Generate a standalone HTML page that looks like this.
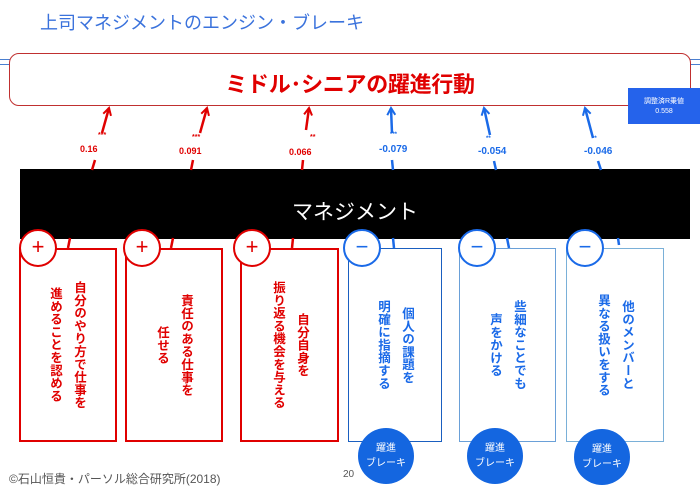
<!DOCTYPE html>
<html><head><meta charset="utf-8"><style>
*{margin:0;padding:0;box-sizing:border-box}
body{width:700px;height:495px;background:#fff;position:relative;overflow:hidden;font-family:"Liberation Sans","Noto Sans CJK JP",sans-serif}
.a{position:absolute}
.box{position:absolute;top:248px;height:194px;border:2px solid #e00000;background:#fff}
.bb{border:1.5px solid #1a5fc0}
.vt{position:absolute;top:248px;height:194px;width:48px;writing-mode:vertical-rl;text-align:center;font-weight:bold;font-size:12.5px;line-height:24px;letter-spacing:0.3px}
.c{position:absolute;width:38px;height:38px;border-radius:50%;background:#fff;border:2.5px solid #e00000;color:#e00000;font-size:22px;text-align:center;line-height:32px}
.cb{border-color:#1a6ae8;color:#1a6ae8}
.br{position:absolute;width:56px;height:56px;border-radius:50%;background:#1466e0;color:#fff;font-size:10px;text-align:center;padding-top:13px;line-height:15px}
.n{position:absolute;font-size:10px;font-weight:bold}
</style></head><body>
<div class="a" style="left:40px;top:9px;font-size:18px;color:#3a72dc">上司マネジメントのエンジン・ブレーキ</div>
<div class="a" style="left:0;top:59px;width:700px;height:6px;border-top:1.5px solid #4a7fd0;border-bottom:1.5px solid #4a7fd0"></div>
<div class="a" style="left:9px;top:53px;width:682px;height:53px;border:1px solid #c03030;border-radius:10px;background:#fff"></div>
<div class="a" style="left:0;width:700px;top:67px;text-align:center;font-size:22px;font-weight:bold;color:#e00000;letter-spacing:-0.3px">ミドル･シニアの躍進行動</div>
<div class="a" style="left:628px;top:88px;width:72px;height:36px;background:#2563eb;color:#fff;font-size:7px;text-align:center;padding-top:9px;line-height:10px">調整済R乗値<br>0.558</div>
<div class="a" style="left:20px;top:169px;width:670px;height:70px;background:#000"></div>
<div class="a" style="left:20px;width:670px;top:196px;text-align:center;color:#fff;font-size:21px">マネジメント</div>
<svg class="a" style="left:0;top:0" width="700" height="495">
<defs>
<marker id="r" markerWidth="10" markerHeight="10" refX="8" refY="5" orient="auto" markerUnits="userSpaceOnUse"><path d="M1,1 L8,5 L1,9" fill="none" stroke="#e00000" stroke-width="2"/></marker>
<marker id="b" markerWidth="10" markerHeight="10" refX="8" refY="5" orient="auto" markerUnits="userSpaceOnUse"><path d="M1,1 L8,5 L1,9" fill="none" stroke="#1a6ae8" stroke-width="2"/></marker>
</defs>
<g stroke="#e00000" stroke-width="2.5" fill="none">
<line x1="102" y1="133" x2="109" y2="108" marker-end="url(#r)"/><line x1="92" y1="170" x2="95" y2="160"/><line x1="70" y1="238" x2="68" y2="248"/>
<line x1="200" y1="133" x2="207" y2="108" marker-end="url(#r)"/><line x1="191" y1="170" x2="193" y2="160"/><line x1="173" y1="238" x2="171" y2="248"/>
<line x1="306" y1="130" x2="309" y2="108" marker-end="url(#r)"/><line x1="302" y1="170" x2="303" y2="160"/><line x1="293" y1="238" x2="292" y2="248"/>
</g>
<g stroke="#1a6ae8" stroke-width="2.5" fill="none">
<line x1="392" y1="133" x2="391" y2="108" marker-end="url(#b)"/><line x1="392" y1="160" x2="393" y2="170"/><line x1="393" y1="238" x2="394" y2="248"/>
<line x1="490" y1="135" x2="484" y2="108" marker-end="url(#b)"/><line x1="494" y1="161" x2="496" y2="170"/><line x1="507" y1="238" x2="509" y2="248"/>
<line x1="593" y1="138" x2="585" y2="108" marker-end="url(#b)"/><line x1="598" y1="161" x2="601" y2="170"/><line x1="618" y1="238" x2="619" y2="245"/>
</g>
</svg>
<div class="n" style="left:80px;top:144px;color:#e00000;font-size:9px">0.16</div>
<div class="n" style="left:98px;top:132px;color:#e00000;font-size:7px">***</div>
<div class="n" style="left:179px;top:146px;color:#e00000;font-size:9px">0.091</div>
<div class="n" style="left:192px;top:134px;color:#e00000;font-size:7px">***</div>
<div class="n" style="left:289px;top:147px;color:#e00000;font-size:9px">0.066</div>
<div class="n" style="left:310px;top:134px;color:#e00000;font-size:7px">**</div>
<div class="n" style="left:379px;top:144px;color:#1a6ae8">-0.079</div>
<div class="n" style="left:390px;top:132px;color:#1a6ae8;font-size:6px">***</div>
<div class="n" style="left:478px;top:146px;color:#1a6ae8">-0.054</div>
<div class="n" style="left:486px;top:136px;color:#1a6ae8;font-size:6px">**</div>
<div class="n" style="left:584px;top:146px;color:#1a6ae8">-0.046</div>
<div class="n" style="left:592px;top:136px;color:#1a6ae8;font-size:6px">**</div>

<div class="box" style="left:19px;width:98px"></div>
<div class="box" style="left:125px;width:98px"></div>
<div class="box" style="left:240px;width:99px"></div>
<div class="box bb" style="left:348px;width:94px"></div>
<div class="box bb" style="left:459px;width:97px;border-color:#6aa0d8"></div>
<div class="box bb" style="left:566px;width:98px;border-color:#7ab0d8"></div>

<div class="vt" style="left:43px;color:#e00000">自分のやり方で仕事を<br>進めることを認める</div>
<div class="vt" style="left:150px;color:#e00000">責任のある仕事を<br>任せる</div>
<div class="vt" style="left:266px;color:#e00000">自分自身を<br>振り返る機会を与える</div>
<div class="vt" style="left:371px;color:#1a6ae8">個人の課題を<br>明確に指摘する</div>
<div class="vt" style="left:483px;color:#1a6ae8">些細なことでも<br>声をかける</div>
<div class="vt" style="left:591px;color:#1a6ae8">他のメンバーと<br>異なる扱いをする</div>

<div class="c" style="left:19px;top:229px">+</div>
<div class="c" style="left:123px;top:229px">+</div>
<div class="c" style="left:233px;top:229px">+</div>
<div class="c cb" style="left:343px;top:229px">−</div>
<div class="c cb" style="left:458px;top:229px">−</div>
<div class="c cb" style="left:566px;top:229px">−</div>

<div class="br" style="left:358px;top:428px">躍進<br>ブレーキ</div>
<div class="br" style="left:467px;top:428px">躍進<br>ブレーキ</div>
<div class="br" style="left:574px;top:429px">躍進<br>ブレーキ</div>

<div class="a" style="left:9px;top:470px;font-size:12px;color:#555">©石山恒貴・パーソル総合研究所(2018)</div>
<div class="a" style="left:343px;top:469px;font-size:10px;color:#555">20</div>
</body></html>
